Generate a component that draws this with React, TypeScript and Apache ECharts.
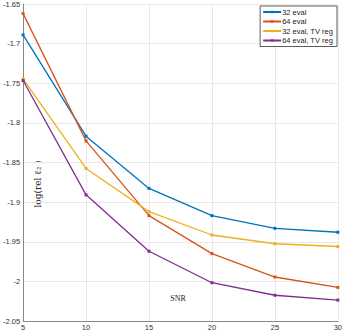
import React, { useEffect, useRef } from "react";
import * as echarts from "echarts";

const snr = [5, 10, 15, 20, 25, 30];
const eval32 = [-1.689, -1.8168, -1.8827, -1.917, -1.933, -1.938];
const eval64 = [-1.6621, -1.8227, -1.917, -1.965, -1.9945, -2.0076];
const eval32TV = [-1.7446, -1.8575, -1.912, -1.9415, -1.9525, -1.956];
const eval64TV = [-1.7466, -1.8908, -1.962, -2.0017, -2.0175, -2.0236];
const seriesNames = ["32 eval", "64 eval", "32 eval, TV reg", "64 eval, TV reg"];
const colors = ["#0072BD", "#D95319", "#EDB120", "#7E2F8E"];

export default function App() {
  const ref = useRef<HTMLDivElement>(null);
  useEffect(() => {
    const chart = echarts.init(ref.current!, null, { renderer: "svg" });
    const datasets = [eval32, eval64, eval32TV, eval64TV];
    chart.setOption({
      animation: false,
      grid: { left: 23, right: 3, top: 4, bottom: 11 },
      legend: {
        right: 8,
        top: 6,
        orient: "vertical",
        itemWidth: 18,
        itemHeight: 3,
        itemGap: 1.5,
        padding: [2, 4, 2, 2],
        borderColor: "#333",
        borderWidth: 0.8,
        borderRadius: 0,
        backgroundColor: "#fff",
        textStyle: { fontSize: 7.5, color: "#222", fontFamily: "Liberation Sans", padding: [0, 0, 0, -4] },
        data: seriesNames,
      },
      xAxis: {
        type: "value",
        min: 5,
        max: 30,
        interval: 5,
        axisLine: { show: true, lineStyle: { color: "#888", width: 1 } },
        axisTick: { show: false },
        axisLabel: { fontSize: 7.5, color: "#333", margin: 2, fontFamily: "Liberation Sans" },
        splitLine: { show: true, lineStyle: { color: "#e8e8e8", width: 1 } },
      },
      yAxis: {
        type: "value",
        min: -2.05,
        max: -1.65,
        interval: 0.05,
        axisLine: { show: true, lineStyle: { color: "#888", width: 1 } },
        axisTick: { show: false },
        axisLabel: {
          fontSize: 7.5,
          color: "#333",
          margin: 3,
          fontFamily: "Liberation Sans",
          formatter: (v: number) => String(parseFloat(v.toFixed(2))),
        },
        splitLine: { show: true, lineStyle: { color: "#e8e8e8", width: 1 } },
      },
      graphic: [
        {
          type: "text",
          x: 178,
          y: 298,
          style: { text: "SNR", font: "8px 'Liberation Serif'", fill: "#222", textAlign: "center", textVerticalAlign: "middle" },
        },
        {
          type: "text",
          x: 38,
          y: 184,
          rotation: Math.PI / 2,
          style: { text: "log(rel ℓ₂ )", font: "9px 'DejaVu Serif'", fill: "#222", textAlign: "center", textVerticalAlign: "middle" },
        },
      ],
      series: datasets.map((d, i) => ({
        name: seriesNames[i],
        type: "line",
        data: snr.map((x, j) => [x, d[j]]),
        symbol: "rect",
        symbolSize: 3,
        color: colors[i],
        lineStyle: { width: 1.3, color: colors[i] },
        itemStyle: { color: colors[i] },
      })),
    });
    return () => chart.dispose();
  }, []);
  return <div ref={ref} style={{ width: 345, height: 332, position: "absolute", left: 0, top: 0, background: "#fff" }} />;
}
